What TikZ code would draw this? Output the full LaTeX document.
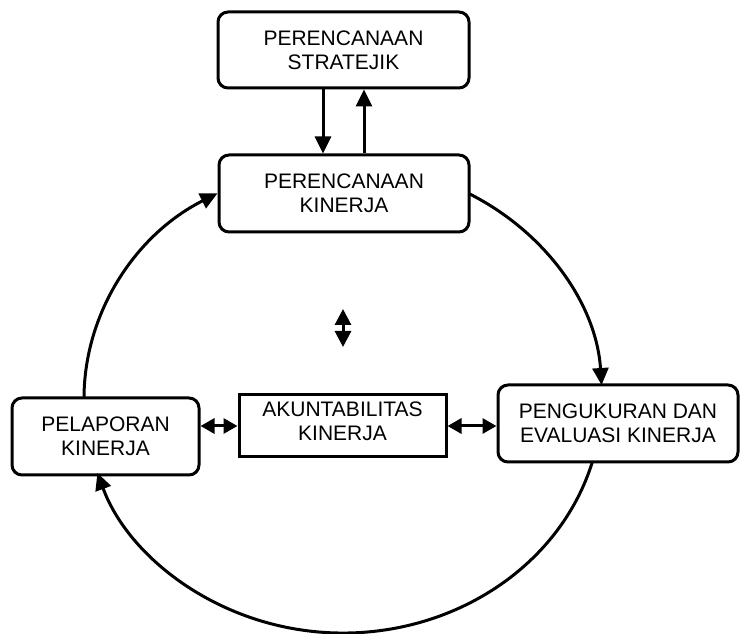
\documentclass[tikz,border=0pt]{standalone}
\usepackage{fontspec}
\setmainfont{Liberation Sans}
\usetikzlibrary{arrows.meta,calc}
\begin{document}
\begin{tikzpicture}[x=1pt,y=1pt,
  every node/.style={font=\fontsize{21}{24}\selectfont, align=center, inner sep=0pt},
  rbox/.style={draw, line width=3pt, rounded corners=10pt},
  sbox/.style={draw, line width=3pt},
  arr/.style={line width=3pt, -{Triangle[length=17pt,width=16pt]}},
  darr/.style={line width=3pt, {Triangle[length=14pt,width=15pt]}-{Triangle[length=14pt,width=15pt]}},
  vdarr/.style={line width=3pt, {Triangle[length=16pt,width=16pt]}-{Triangle[length=16pt,width=16pt]}}
]
\useasboundingbox (0,0) rectangle (740,633);
\node[rbox, minimum width=251pt, minimum height=76pt] (strat) at (343.5,583) {PERENCANAAN\\STRATEJIK};
\node[rbox, minimum width=250pt, minimum height=77pt] (plan) at (344,439.5) {PERENCANAAN\\KINERJA};
\node[rbox, minimum width=187pt, minimum height=77pt] (lapor) at (105.5,196.5) {PELAPORAN\\KINERJA};
\node[sbox, minimum width=207pt, minimum height=62pt, text depth=10pt] (akun) at (342.5,207) {AKUNTABILITAS\\KINERJA};
\node[rbox, minimum width=240pt, minimum height=77pt] (ukur) at (618,209.5) {PENGUKURAN DAN\\EVALUASI KINERJA};

% vertical arrows between top boxes
\draw[arr] ([xshift=-20.5pt]strat.south) -- ([xshift=-21pt]plan.north);
\draw[arr] ([xshift=20pt]plan.north) -- ([xshift=20.5pt]strat.south);

% horizontal double arrows
\draw[darr] (akun.west -| lapor.east) -- (akun.west);
\draw[darr] (akun.east) -- (akun.east -| ukur.west);

% lone vertical double arrow
\coordinate (va) at (343,324);
\coordinate (vb) at (343,286);
\draw[vdarr] (va) -- (vb);

% cycle arcs
\coordinate (O) at (343,234.5);
\coordinate (r1) at ($(O)+(61:259pt and 234.5pt)$);
\coordinate (b1) at ($(O)+(-15.7:259pt and 234.5pt)$);
\coordinate (l1) at ($(O)+(180:259pt and 234.5pt)$);
\draw[arr] (r1) arc[start angle=61, end angle=3.3, x radius=259pt, y radius=234.5pt];
\draw[arr] (b1) arc[start angle=-15.7, end angle=-161.5, x radius=259pt, y radius=234.5pt];
\draw[arr] (l1) arc[start angle=180, end angle=119, x radius=259pt, y radius=234.5pt];
\end{tikzpicture}
\end{document}
